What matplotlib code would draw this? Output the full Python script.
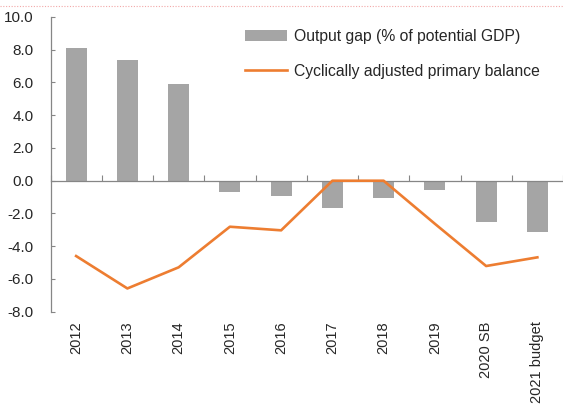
import matplotlib
matplotlib.use("Agg")
import matplotlib.pyplot as plt
from matplotlib.lines import Line2D
import numpy as np

categories = ["2012", "2013", "2014", "2015", "2016", "2017", "2018", "2019", "2020 SB", "2021 budget"]
output_gap = [8.12, 7.37, 5.89, -0.67, -0.95, -1.65, -1.06, -0.57, -2.52, -3.11]
primary_balance = [-4.6, -6.58, -5.29, -2.81, -3.03, 0.0, 0.0, -2.63, -5.21, -4.68]
yticks = [-8, -6, -4, -2, 0, 2, 4, 6, 8, 10]

plt.rcParams['font.family'] = ['Liberation Sans', 'DejaVu Sans']
TXT = '#262626'
SPINE = '#868686'

fig = plt.figure(figsize=(5.63, 4.07), dpi=100)
ax = fig.add_axes([50.5/563, 1 - 311.7/407, 1 - 50.5/563, (311.7 - 17)/407])

x = np.arange(len(categories))
bars = ax.bar(x, output_gap, width=0.41, color='#A5A5A5', label='Output gap (% of potential GDP)', zorder=2)
line, = ax.plot(x, primary_balance, color='#ED7D31', lw=1.9, label='Cyclically adjusted primary balance', zorder=3)

ax.set_ylim(-8, 10)
ax.set_xlim(-0.5, len(categories) - 0.5)
ax.set_yticks(yticks)
ax.set_yticklabels([f"{v:.1f}" for v in yticks], fontsize=11, color=TXT)
ax.tick_params(axis='y', direction='in', length=3, width=0.8, color=SPINE, pad=12)

for s in ['top', 'right']:
    ax.spines[s].set_visible(False)
ax.spines['left'].set_color(SPINE)
ax.spines['left'].set_linewidth(0.9)
ax.spines['bottom'].set_position(('data', 0))
ax.spines['bottom'].set_color(SPINE)
ax.spines['bottom'].set_linewidth(0.9)
ax.set_xticks(np.arange(len(categories) + 1) - 0.5)
ax.set_xticklabels([])
ax.tick_params(axis='x', direction='in', length=4, width=0.8, color=SPINE)

sec = ax.secondary_xaxis('bottom')
sec.set_xticks(x)
sec.set_xticklabels(categories, rotation=90, fontsize=10.5, color=TXT, va='top', ha='center')
sec.tick_params(length=0, pad=7)
sec.spines['bottom'].set_visible(False)

leg = fig.legend(handles=[bars, line], loc='upper left', bbox_to_anchor=(245/563, 1 - 28.5/407), frameon=False,
                 fontsize=11.3, handlelength=2.7, handletextpad=0.4, labelspacing=1.3,
                 borderpad=0, borderaxespad=0)
for t in leg.get_texts():
    t.set_color(TXT)

fig.add_artist(Line2D([0, 1], [1 - 5.5/407, 1 - 5.5/407], transform=fig.transFigure,
                      color='#F2A8A8', lw=0.8, ls=(0, (1, 1.5))))

fig.savefig("out.png", dpi=100)
